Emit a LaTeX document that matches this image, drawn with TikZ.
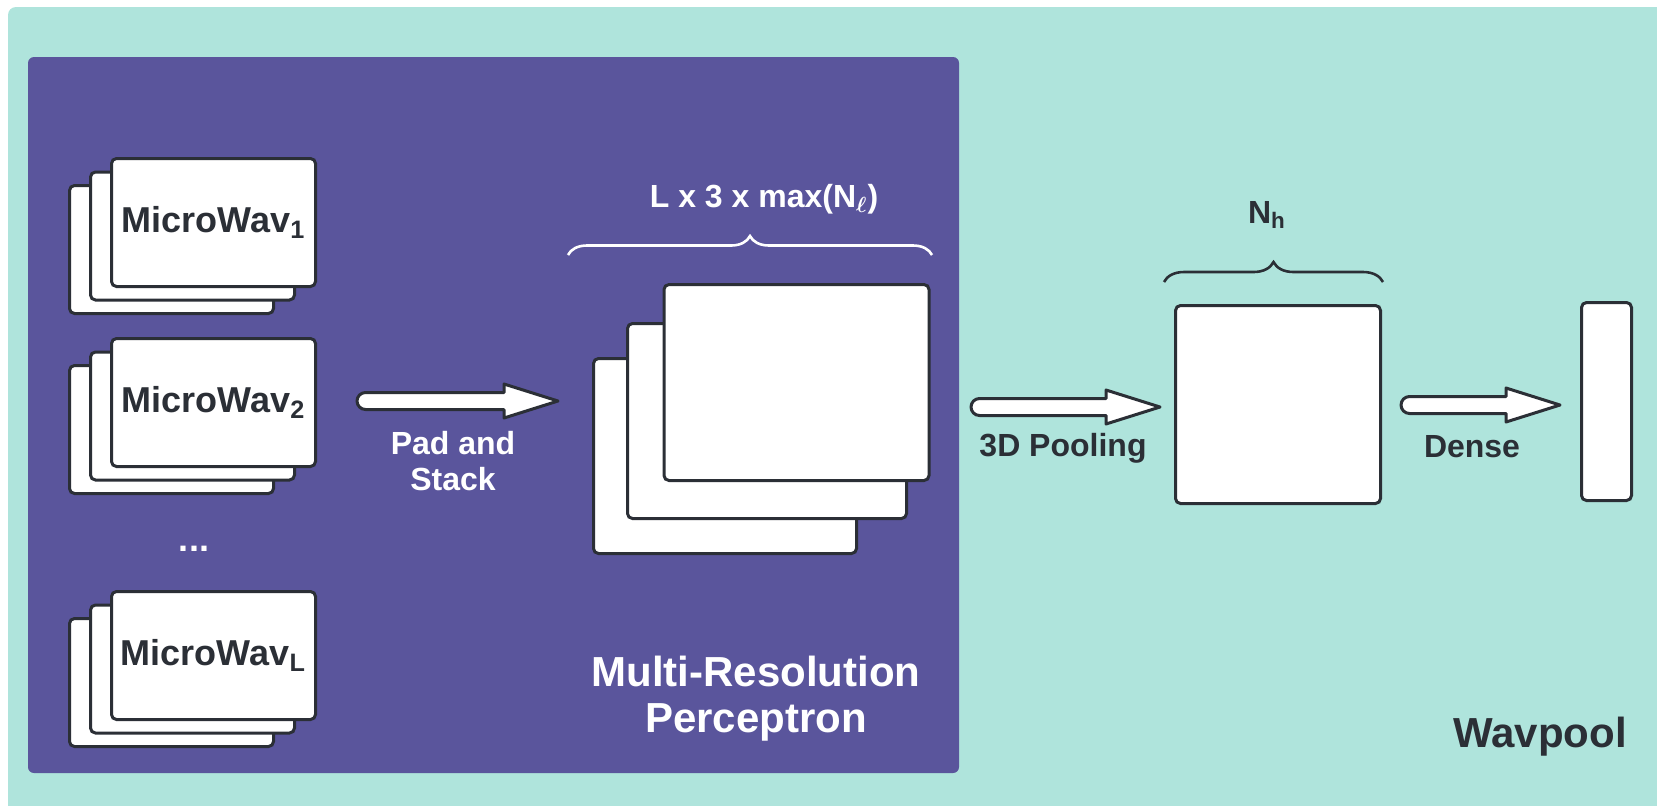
\documentclass[tikz,border=0pt]{standalone}
\usepackage{fontspec}
\setmainfont{Liberation Sans}
\usetikzlibrary{calc,decorations.pathreplacing}

\definecolor{wavteal}{HTML}{AFE4DC}
\definecolor{mrpurple}{HTML}{5A559C}
\definecolor{inkdark}{HTML}{2B2F36}

\tikzset{
    card/.style={draw=inkdark, fill=white, line width=1.5pt, rounded corners=2.5pt, inner sep=0pt},
    wavcard/.style={card, minimum width=102pt, minimum height=64pt},
    cardtext/.style={font=\fontsize{18}{21}\selectfont\bfseries, text=inkdark},
    lbl/.style={font=\fontsize{16}{18}\selectfont\bfseries, inner sep=0pt, align=center},
    bigtitle/.style={font=\fontsize{21}{23}\selectfont\bfseries, inner sep=0pt, align=center},
    brace/.style={decorate, decoration={brace, amplitude=9.5pt}, line width=1.3pt},
    fatarrow/.style={draw=inkdark, fill=white, line width=1.5pt, line join=round,
        to path={let \p1=(\tikztostart), \p2=(\tikztotarget) in
            (\x1+4.25pt,\y1+4.25pt) -- (\x2-27pt,\y1+4.25pt) -- (\x2-27pt,\y1+8.5pt) -- (\x2,\y1)
            -- (\x2-27pt,\y1-8.5pt) -- (\x2-27pt,\y1-4.25pt) -- (\x1+4.25pt,\y1-4.25pt)
            arc[start angle=270, end angle=90, radius=4.25pt] -- cycle}}
}

\begin{document}
\begin{tikzpicture}[x=0.5pt, y=-0.5pt]
    \useasboundingbox (0,0) rectangle (1657,805);

    % Panels
    \fill[wavteal, rounded corners=4pt] (8,7) rectangle (1690,840);
    \fill[mrpurple, rounded corners=3pt] (28,57) rectangle (959,773);

    % MicroWav stacks
    \node[wavcard] (mw1c) at (171.5,249.5) {};
    \node[wavcard] (mw1b) at (192.5,236) {};
    \node[wavcard, cardtext] (mw1a) at (213.5,222.5) {MicroWav\textsubscript{1}};

    \node[wavcard] (mw2c) at (171.5,429.5) {};
    \node[wavcard] (mw2b) at (192.5,416) {};
    \node[wavcard, cardtext] (mw2a) at (213.5,402.5) {MicroWav\textsubscript{2}};

    \node[cardtext, text=white, anchor=base, inner sep=0pt] (dots) at (194,551) {...};

    \node[wavcard] (mwLc) at (171.5,682.5) {};
    \node[wavcard] (mwLb) at (192.5,669) {};
    \node[wavcard, cardtext] (mwLa) at (213.5,655.5) {MicroWav\textsubscript{L}};

    % Stacked tensor
    \node[card, minimum width=131.5pt, minimum height=97.5pt] (stk3) at (725,456) {};
    \node[card, minimum width=139.5pt, minimum height=97.5pt] (stk2) at (767,421) {};
    \node[card, minimum width=132.5pt, minimum height=98pt] (stk1) at (796.5,382.5) {};

    % Pooled and dense outputs
    \node[card, minimum width=102.5pt, minimum height=99pt] (pooled) at (1278,404.5) {};
    \node[card, minimum width=25pt, minimum height=99pt] (dense) at (1606.5,401.5) {};

    % Arrows
    \coordinate (pad-a) at (357,401);
    \coordinate (pad-b) at (558,401);
    \coordinate (pool-a) at (971,407);
    \coordinate (pool-b) at (1160,407);
    \coordinate (dense-a) at (1401,405);
    \coordinate (dense-b) at (1560,405);
    \draw[fatarrow] (pad-a) to (pad-b);
    \draw[fatarrow] (pool-a) to (pool-b);
    \draw[fatarrow] (dense-a) to (dense-b);

    % Braces
    \coordinate (stk-l) at (568,255);
    \coordinate (stk-r) at (932,255);
    \coordinate (pooled-l) at (1164,282);
    \coordinate (pooled-r) at (1383,282);
    \draw[brace, white] (stk-l) -- (stk-r);
    \draw[brace, inkdark, decoration={amplitude=10pt}] (pooled-l) -- (pooled-r);

    % Labels
    \node[lbl, text=white, anchor=base] (stk-lbl) at (764,207) {L x 3 x max(N\textsubscript{\boldmath$\ell$})};
    \node[lbl, text=inkdark, anchor=base, font=\fontsize{16}{18}\selectfont\bfseries] (nh-lbl) at (1267,223) {N\textsubscript{h}};
    \node[lbl, text=white, anchor=north] (pad-lbl) at (453,431) {Pad and\\Stack};
    \node[lbl, text=inkdark, anchor=base] (pool-lbl) at (1063,456) {3D Pooling};
    \node[lbl, text=inkdark, anchor=base] (dense-lbl) at (1472,457) {Dense};
    \node[bigtitle, text=white, anchor=north] (mrp-lbl) at (756,656) {Multi-Resolution\\Perceptron};
    \node[bigtitle, text=inkdark, anchor=base] (wav-lbl) at (1540,747) {Wavpool};
\end{tikzpicture}
\end{document}
